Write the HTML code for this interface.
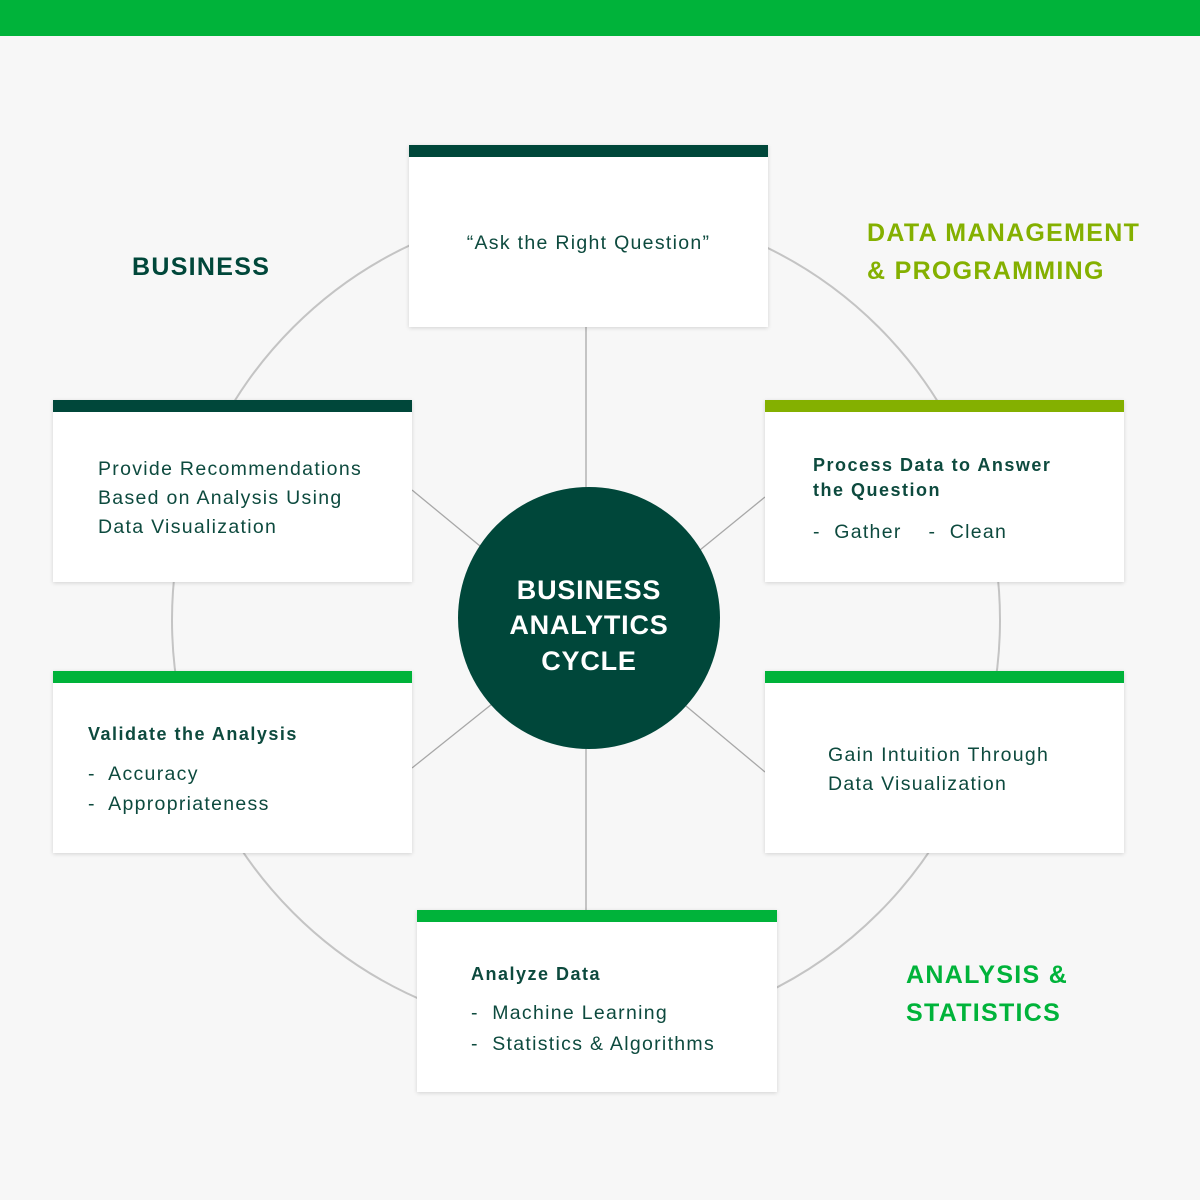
<!DOCTYPE html>
<html><head><style>
body{margin:0;width:1200px;height:1200px;background:#f7f7f7;position:relative;overflow:hidden;font-family:"Liberation Sans",sans-serif;color:#0d4a3e}
.bar{position:absolute;left:0;top:0;width:1200px;height:36px;background:#00b33a}
.box{position:absolute;width:359px;height:182px;background:#fff;box-shadow:0 1px 4px rgba(0,0,0,0.15)}
.box .h{position:absolute;left:0;top:0;width:100%;height:12px}
.t{position:absolute;font-size:19.5px;line-height:29px;letter-spacing:1.3px;white-space:nowrap}
.b{font-weight:bold;font-size:18px;line-height:25px;letter-spacing:1.5px}
.lab{position:absolute;font-weight:bold;font-size:25px;line-height:38px;letter-spacing:1.3px}
</style></head><body>
<div class="bar"></div>
<svg width="1200" height="1200" style="position:absolute;left:0;top:0">
<circle cx="586" cy="620" r="414" fill="none" stroke="#c4c4c4" stroke-width="2"/>
<g stroke="#a8a8a8" stroke-width="1.3">
<line x1="586" y1="327" x2="586" y2="490"/>
<line x1="586" y1="748" x2="586" y2="910"/>
<line x1="412" y1="490" x2="480" y2="546"/>
<line x1="700" y1="550" x2="765" y2="497"/>
<line x1="412" y1="768" x2="492" y2="704"/>
<line x1="686" y1="706" x2="765" y2="772"/>
</g>
<circle cx="589" cy="618" r="131" fill="#00473a"/>
<g fill="#fff" font-family="Liberation Sans" font-weight="bold" font-size="27" letter-spacing="0.8" text-anchor="middle">
<text x="589" y="599">BUSINESS</text>
<text x="589" y="634">ANALYTICS</text>
<text x="589" y="670">CYCLE</text>
</g>
</svg>
<div class="box" style="left:409px;top:145px"><div class="h" style="background:#00473a"></div>
<div class="t" style="left:0;width:359px;text-align:center;top:84px">“Ask the Right Question”</div></div>
<div class="box" style="left:53px;top:400px"><div class="h" style="background:#00473a"></div>
<div class="t" style="left:45px;top:55px">Provide Recommendations<br>Based on Analysis Using<br>Data Visualization</div></div>
<div class="box" style="left:765px;top:400px"><div class="h" style="background:#84b000"></div>
<div class="t b" style="left:48px;top:53px">Process Data to Answer<br>the Question</div>
<div class="t" style="left:48px;top:118px">-&nbsp; Gather &nbsp;&nbsp; -&nbsp; Clean</div></div>
<div class="box" style="left:53px;top:671px"><div class="h" style="background:#00b33a"></div>
<div class="t b" style="left:35px;top:51px">Validate the Analysis</div>
<div class="t" style="left:35px;top:88px;line-height:30px">-&nbsp; Accuracy<br>-&nbsp; Appropriateness</div></div>
<div class="box" style="left:765px;top:671px"><div class="h" style="background:#00b33a"></div>
<div class="t" style="left:63px;top:70px">Gain Intuition Through<br>Data Visualization</div></div>
<div class="box" style="left:417px;top:910px;width:360px"><div class="h" style="background:#00b33a"></div>
<div class="t b" style="left:54px;top:52px">Analyze Data</div>
<div class="t" style="left:54px;top:88px;line-height:31px">-&nbsp; Machine Learning<br>-&nbsp; Statistics &amp; Algorithms</div></div>
<div class="lab" style="left:132px;top:248px;color:#00473a">BUSINESS</div>
<div class="lab" style="left:867px;top:214px;color:#84b000">DATA MANAGEMENT<br>&amp; PROGRAMMING</div>
<div class="lab" style="left:906px;top:956px;color:#00b33a">ANALYSIS &amp;<br>STATISTICS</div>
</body></html>
